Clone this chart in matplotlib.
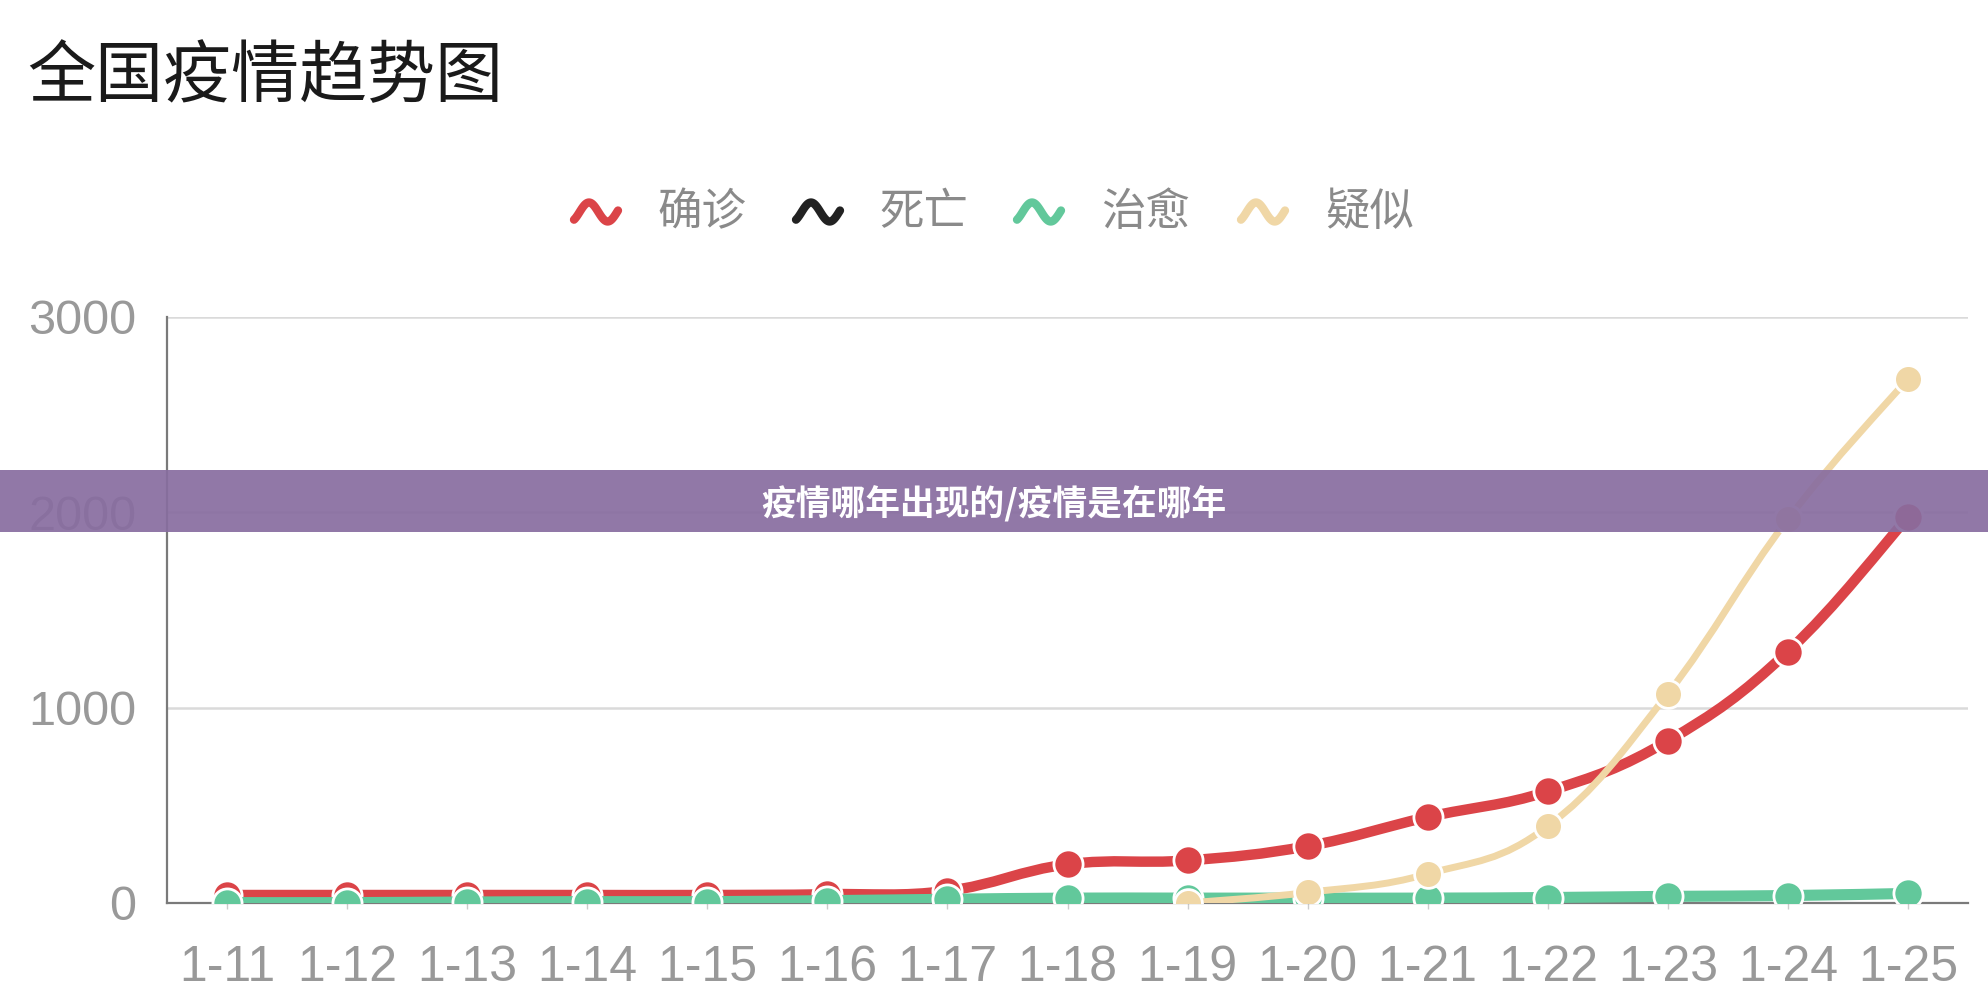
import numpy as np
import matplotlib
matplotlib.use('Agg')
from matplotlib import pyplot as plt
from matplotlib.path import Path
from matplotlib.patches import PathPatch, Rectangle
from matplotlib.lines import Line2D

plt.rcParams['font.family'] = ['Noto Sans CJK SC', 'DejaVu Sans']

# 数据
dates = ['1-11', '1-12', '1-13', '1-14', '1-15', '1-16', '1-17', '1-18',
         '1-19', '1-20', '1-21', '1-22', '1-23', '1-24', '1-25']
confirm = [41, 41, 41, 41, 41, 45, 62, 198, 218, 291, 440, 571, 830, 1287, 1975]
dead = [1, 1, 1, 1, 2, 2, 2, 3, 4, 6, 9, 17, 25, 41, 56]
heal = [2, 2, 5, 7, 7, 12, 19, 25, 25, 25, 25, 28, 34, 38, 49]
suspect = [None, None, None, None, None, None, None, None,
           0, 54, 149, 393, 1072, 1965, 2684]

names = ['确诊', '死亡', '治愈', '疑似']
colors = ['#db4448', '#222222', '#62c89b', '#f0d7a6']

W, H = 1988, 1002
fig = plt.figure(figsize=(W / 100, H / 100), dpi=100)
ax = fig.add_axes([167 / W, 1 - 903 / H, (1968 - 167) / W, (903 - 317) / H])


def smooth_path(xs, ys, t=0.2):
    # 用三次贝塞尔连接各点，得到平滑曲线
    pts = np.column_stack([xs, ys]).astype(float)
    n = len(pts)
    verts = [pts[0]]
    codes = [Path.MOVETO]
    for i in range(n - 1):
        p0 = pts[max(i - 1, 0)]
        p1 = pts[i]
        p2 = pts[i + 1]
        p3 = pts[min(i + 2, n - 1)]
        c1 = p1 + (p2 - p0) * t
        c2 = p2 - (p3 - p1) * t
        verts += [c1, c2, p2]
        codes += [Path.CURVE4] * 3
    return Path(verts, codes)


def draw_series(vals, color, lw, ms, z, marker=True):
    xs = [i for i, v in enumerate(vals) if v is not None]
    ys = [v for v in vals if v is not None]
    patch = PathPatch(smooth_path(xs, ys), facecolor='none', edgecolor=color,
                      lw=lw, zorder=z, capstyle='round', joinstyle='round')
    ax.add_patch(patch)
    if marker:
        ax.plot(xs, ys, linestyle='none', marker='o', ms=ms, mfc=color,
                mec='white', mew=2, zorder=z + 0.5)


draw_series(confirm, colors[0], 7.5, 21, 3)
draw_series(dead, colors[1], 2.5, 0, 4, marker=False)
draw_series(heal, colors[2], 8, 21, 5)
draw_series(suspect, colors[3], 5, 20, 6)

ax.set_xlim(-0.5, 14.5)
ax.set_ylim(0, 3000)
ax.set_xticks(range(len(dates)))
ax.set_xticklabels(dates)
ax.set_yticks([0, 1000, 2000, 3000])
ax.grid(axis='y', color='#dadada', lw=1.8)
ax.set_axisbelow(True)
for s in ['top', 'right']:
    ax.spines[s].set_visible(False)
for s in ['left', 'bottom']:
    ax.spines[s].set_color('#7a7a7a')
    ax.spines[s].set_linewidth(1.6)
ax.tick_params(axis='x', length=4, width=1, color='#cccccc', pad=26,
               labelsize=36, labelcolor='#999999')
ax.tick_params(axis='y', length=0, pad=22, labelsize=35, labelcolor='#999999')
for lab in ax.get_xticklabels() + ax.get_yticklabels():
    lab.set_fontfamily('Liberation Sans')

# 标题
fig.text(27 / W, 1 - 78 / H, '全国疫情趋势图', fontsize=49, color='#1a1a1a',
         va='center', ha='left')

# 图例
icon_x = [574, 796, 1017, 1241]
text_x = [657, 879, 1101, 1325]
ly = 212
for i in range(4):
    t = np.linspace(-0.3 * np.pi, 2.05 * np.pi, 60)
    px = icon_x[i] + (t - t[0]) / (t[-1] - t[0]) * 44
    py = ly - 9.5 * np.sin(t)
    fig.add_artist(Line2D(px / W, 1 - py / H, color=colors[i], lw=6,
                          solid_capstyle='round', transform=fig.transFigure))
    fig.text(text_x[i] / W, 1 - ly / H, names[i], fontsize=32, color='#8a8a8a',
             va='center', ha='left')

# 横幅
fig.add_artist(Rectangle((0, 1 - 532 / H), 1, 62 / H, transform=fig.transFigure,
                         facecolor='#886da0', alpha=0.92, edgecolor='none', zorder=20))
fig.text(0.5, 1 - 504 / H, '疫情哪年出现的/疫情是在哪年', fontsize=25,
         fontweight='bold', color='white', ha='center', va='center', zorder=21)

plt.savefig('out.png', dpi=100)
